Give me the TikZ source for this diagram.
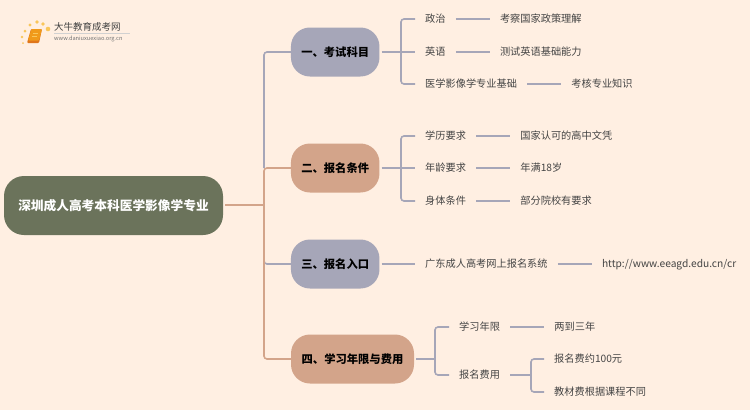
\documentclass[tikz,border=0pt]{standalone}
\usepackage{fontspec}
\setmainfont{Noto Sans CJK SC}
\usepackage{tikz}
\usetikzlibrary{positioning}
\definecolor{pagebg}{HTML}{FFEFE2}
\definecolor{rootgreen}{HTML}{6B735B}
\definecolor{slateblue}{HTML}{A6A6B8}
\definecolor{claytan}{HTML}{D3A48A}
\definecolor{leaftext}{HTML}{444444}
\definecolor{bookorange}{HTML}{F09A1A}
\definecolor{bookedge}{HTML}{E0761A}
\definecolor{dotyellow}{HTML}{F9C65A}
\tikzset{
  rootbox/.style={rounded corners=20pt, fill=rootgreen, text=white, font=\fontsize{12.7}{16}\selectfont\bfseries,
    minimum width=219pt, minimum height=59pt, inner sep=0pt},
  topicbox/.style={rounded corners=19pt, text=black, font=\fontsize{11.3}{14}\selectfont\bfseries,
    minimum height=49pt, inner sep=0pt},
  leaf/.style={anchor=west, text=leaftext, font=\fontsize{10.2}{13}\selectfont, inner xsep=10pt, inner ysep=2pt,
    text height=9pt, text depth=2pt},
  wireblue/.style={slateblue, line width=1.6pt, rounded corners=3pt},
  wiretan/.style={claytan, line width=1.6pt, rounded corners=3pt},
}
\begin{document}
\begin{tikzpicture}[x=1pt, y=-1pt]
  \useasboundingbox[fill=pagebg] (0,0) rectangle (750,410);

  % logo
  \foreach \dx/\dy/\r in {23/43/1, 22/37/1.3, 25/31/1.5, 30/25/1.7, 37/22/1.9, 43/24/1.9, 48/29/2.3} {
    \fill[dotyellow] (\dx,\dy) circle (\r);
  }
  \fill[bookedge, rounded corners=1pt] (27,43) -- (31,29) -- (42,29) -- (39,43) -- cycle;
  \fill[bookorange, rounded corners=1pt] (28,40.5) -- (31.5,29) -- (42,29) -- (39,40.5) -- cycle;
  \draw[dotyellow, line width=0.7pt] (33,33) -- (38,33) (32,36) -- (37,36);
  \draw[black!18, line width=0.7pt] (54,33.5) -- (130,33.5);
  \node[font=\fontsize{9.5}{11}\selectfont, text=black!75, anchor=west, inner sep=0pt] (logoname) at (54,27) {大牛教育成考网};
  \node[font=\fontsize{5.65}{7}\selectfont, text=black!55, anchor=west, inner sep=0pt] (logourl) at (54,39) {www.daniuxuexiao.org.cn};

  % root and topics
  \node[rootbox] (root) at (113.5,205.5) {深圳成人高考本科医学影像学专业};
  \node[topicbox, fill=slateblue, minimum width=88.5pt] (kemu) at (335.2,52) {一、考试科目};
  \node[topicbox, fill=claytan, minimum width=88.5pt] (tiaojian) at (335.2,168) {二、报名条件};
  \node[topicbox, fill=slateblue, minimum width=88.5pt] (rukou) at (335.2,264) {三、报名入口};
  \node[topicbox, fill=claytan, minimum width=123pt] (feiyong) at (352.5,359) {四、学习年限与费用};

  \coordinate (trunk) at (264,205);
  \draw[wireblue] (trunk |- tiaojian) |- (kemu.west);
  \draw[wireblue] (264,255) |- (rukou.west);
  \draw[wiretan] (tiaojian.west) -| (trunk) |- (feiyong.west);
  \draw[wiretan] (root.east |- trunk) ++(2,0) -- (trunk);

  % exam subjects
  \node[leaf] (zhengzhi) at (415,19) {政治};
  \node[leaf] (yingyu) at (415,52) {英语};
  \node[leaf] (yixue) at (415,84) {医学影像学专业基础};
  \node[leaf, right=34pt of zhengzhi] (zhengce) {考察国家政策理解};
  \node[leaf, right=34pt of yingyu] (jichu) {测试英语基础能力};
  \node[leaf, right=34pt of yixue] (zhishi) {考核专业知识};
  \coordinate (forka) at (401,52);
  \draw[wireblue] (kemu.east) ++(2,0) -- (yingyu.west);
  \draw[wireblue] (zhengzhi.west) -| (forka) |- (yixue.west);
  \draw[wireblue] (zhengzhi) -- (zhengce);
  \draw[wireblue] (yingyu) -- (jichu);
  \draw[wireblue] (yixue) -- (zhishi);

  % conditions
  \node[leaf] (xueli) at (415,136) {学历要求};
  \node[leaf] (nianling) at (415,168) {年龄要求};
  \node[leaf] (shenti) at (415,201) {身体条件};
  \node[leaf, right=34pt of xueli] (wenping) {国家认可的高中文凭};
  \node[leaf, right=34pt of nianling] (shiba) {年满18岁};
  \node[leaf, right=34pt of shenti] (yuanxiao) {部分院校有要求};
  \coordinate (forkb) at (401,168);
  \draw[wireblue] (tiaojian.east) ++(2,0) -- (nianling.west);
  \draw[wireblue] (xueli.west) -| (forkb) |- (shenti.west);
  \draw[wireblue] (xueli) -- (wenping);
  \draw[wireblue] (nianling) -- (shiba);
  \draw[wireblue] (shenti) -- (yuanxiao);

  % entrance
  \node[leaf] (xitong) at (415,264) {广东成人高考网上报名系统};
  \node[leaf, right=34pt of xitong] (wangzhi) {http://www.eeagd.edu.cn/cr};
  \draw[wireblue] (rukou.east) ++(2,0) -- (xitong.west);
  \draw[wireblue] (xitong) -- (wangzhi);

  % years and fees
  \node[leaf] (nianxian) at (449,327) {学习年限};
  \node[leaf] (baoming) at (449,375) {报名费用};
  \node[leaf, right=34pt of nianxian] (sannian) {两到三年};
  \node[leaf] (yuanfei) at (544,359) {报名费约100元};
  \node[leaf] (jiaocai) at (544,392) {教材费根据课程不同};
  \coordinate (forkc) at (435,359);
  \coordinate (forkd) at (531,375);
  \draw[wireblue] (feiyong.east) ++(2,0) -- (forkc);
  \draw[wireblue] (nianxian.west) -| (forkc) |- (baoming.west);
  \draw[wireblue] (nianxian) -- (sannian);
  \draw[wireblue] (baoming) -- (forkd);
  \draw[wireblue] (yuanfei.west) -| (forkd) |- (jiaocai.west);
\end{tikzpicture}
\end{document}
